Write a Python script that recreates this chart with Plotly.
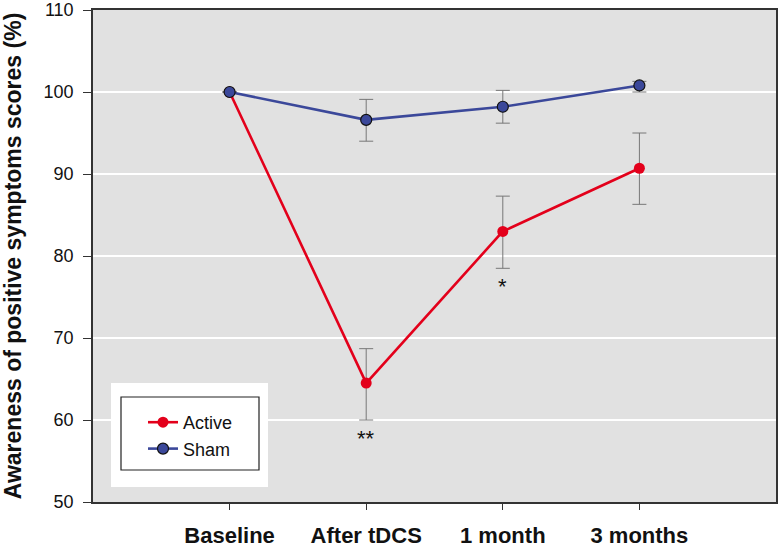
import plotly.graph_objects as go

categories = ["Baseline", "After tDCS", "1 month", "3 months"]

active_mean = [100.0, 64.5, 83.0, 90.7]
active_err_plus = [0.0, 4.2, 4.3, 4.3]
active_err_minus = [0.0, 4.5, 4.5, 4.4]

sham_mean = [100.0, 96.6, 98.2, 100.8]
sham_err_plus = [0.0, 2.5, 2.0, 0.5]
sham_err_minus = [0.0, 2.6, 2.0, 0.8]

y_ticks = [50, 60, 70, 80, 90, 100, 110]

significance = {"After tDCS": "**", "1 month": "*"}

FONT = "Liberation Sans, Arial, sans-serif"
RED = "#e3001b"
BLUE = "#3b489a"
ERR = "#777777"

fig = go.Figure()

fig.add_trace(go.Scatter(
    x=categories, y=active_mean, name="Active", mode="lines+markers",
    line=dict(color=RED, width=2.6),
    marker=dict(color=RED, size=11, line=dict(width=0)),
    error_y=dict(type="data", symmetric=False, array=active_err_plus,
                 arrayminus=active_err_minus, color=ERR, thickness=1, width=7),
))
fig.add_trace(go.Scatter(
    x=categories, y=sham_mean, name="Sham", mode="lines+markers",
    line=dict(color=BLUE, width=2.6),
    marker=dict(color=BLUE, size=11, line=dict(color="#111111", width=1.2)),
    error_y=dict(type="data", symmetric=False, array=sham_err_plus,
                 arrayminus=sham_err_minus, color=ERR, thickness=1, width=7),
))

# significance marks below the Active error bars
for cat, txt in significance.items():
    i = categories.index(cat)
    low = active_mean[i] - active_err_minus[i]
    fig.add_annotation(x=cat, y=low, yref="y", text=txt, showarrow=False,
                       yanchor="top", yshift=-4,
                       font=dict(family=FONT, size=22, color="#111111"))

# legend frame: white outer panel + black-bordered inner box
fig.add_shape(type="rect", xref="paper", yref="paper",
              x0=(111 - 93) / 683, x1=(268 - 93) / 683,
              y0=(502 - 487) / 492, y1=(502 - 383) / 492,
              fillcolor="white", line=dict(width=0), layer="above")
fig.add_shape(type="rect", xref="paper", yref="paper",
              x0=(121 - 93) / 683, x1=(259 - 93) / 683,
              y0=(502 - 470) / 492, y1=(502 - 397) / 492,
              fillcolor="rgba(0,0,0,0)", line=dict(color="#222222", width=1.2),
              layer="above")

fig.update_layout(
    width=780, height=547,
    margin=dict(l=93, r=4, t=10, b=45),
    paper_bgcolor="white", plot_bgcolor="#e1e1e1",
    font=dict(family=FONT, color="#111111"),
    showlegend=True,
    legend=dict(x=(143 - 93) / 683, y=(502 - 404) / 492, xanchor="left", yanchor="top",
                bgcolor="rgba(0,0,0,0)", borderwidth=0,
                font=dict(family=FONT, size=18, color="#111111"),
                tracegroupgap=0),
    xaxis=dict(
        type="category", categoryorder="array", categoryarray=categories,
        range=[-1, 4], showgrid=False, zeroline=False, automargin=False,
        showline=True, linecolor="#333333", linewidth=1.5, mirror=True,
        ticks="outside", ticklen=6, tickwidth=1.2, tickcolor="#333333",
        tickfont=dict(family=FONT, size=22, color="#111111", weight="bold"),
        ticklabelstandoff=7,
    ),
    yaxis=dict(
        range=[50, 110], tickvals=y_ticks, automargin=False,
        showgrid=True, gridcolor="white", gridwidth=1.5, zeroline=False,
        showline=True, linecolor="#333333", linewidth=1.5, mirror=True,
        ticks="outside", ticklen=8, tickwidth=1.2, tickcolor="#333333",
        tickfont=dict(family=FONT, size=18, color="#111111"),
        ticklabelstandoff=6,
        title=dict(text="Awareness of positive symptoms scores (%)",
                   font=dict(family=FONT, size=23, color="#111111", weight="bold"),
                   standoff=16),
    ),
)

fig.write_html("out.html", config={"displayModeBar": False},
               post_script="document.body.style.margin='0';document.body.style.overflow='hidden';")
